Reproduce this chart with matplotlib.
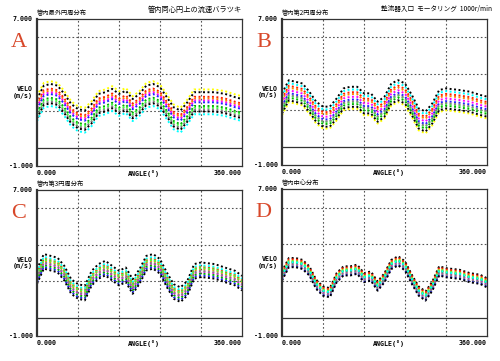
import matplotlib
matplotlib.use('Agg')
import matplotlib.pyplot as plt
import numpy as np

plt.rcParams['font.family'] = ['Noto Sans CJK JP', 'DejaVu Sans']

# 角度 (deg)
angles = [0, 12, 24, 36, 48, 60, 72, 84, 96, 108, 120, 132, 144, 156,
          168, 180, 192, 204, 216, 228, 240, 252, 264, 276, 288, 312, 330, 348, 360]

# 各パネルの中心流速 (m/s)
velo_A = [2.05, 2.78, 2.87, 2.78, 2.33, 1.78, 1.50, 1.42, 1.78, 2.33, 2.42, 2.60, 2.33, 2.50,
          2.05, 2.33, 2.78, 2.87, 2.69, 2.15, 1.60, 1.42, 1.87, 2.42, 2.42, 2.42, 2.33, 2.15, 2.05]
velo_B = [2.33, 3.05, 2.96, 2.87, 2.42, 1.87, 1.60, 1.60, 2.05, 2.60, 2.69, 2.69, 2.33, 2.33,
          1.87, 2.15, 2.87, 3.05, 2.87, 2.24, 1.50, 1.33, 1.78, 2.51, 2.60, 2.51, 2.42, 2.24, 2.15]
velo_C = [2.27, 3.10, 3.00, 2.90, 2.45, 1.72, 1.45, 1.36, 2.18, 2.55, 2.73, 2.45, 2.18, 2.36,
          1.72, 2.27, 3.00, 3.10, 2.82, 2.09, 1.45, 1.27, 1.63, 2.55, 2.64, 2.55, 2.36, 2.18, 1.90]
velo_D = [2.27, 3.00, 3.00, 2.90, 2.55, 1.82, 1.45, 1.36, 2.18, 2.55, 2.55, 2.64, 2.18, 2.27,
          1.72, 2.18, 2.90, 3.10, 2.82, 2.09, 1.45, 1.18, 1.72, 2.55, 2.45, 2.36, 2.18, 2.09, 1.90]

# 測定点ごとのばらつき (m/s)
point_colors = ['#ffff00', '#000000', '#ff2000', '#ff8000', '#ff00ff', '#2020ff',
                '#00b000', '#40ff40', '#808080', '#00ffff', '#000000']
spread_A = [0.75, 0.6, 0.35, 0.25, 0.15, 0.05, -0.15, -0.25, -0.35, -0.6, -0.45]
spread_B = [-0.6, 0.6, 0.3, 0.2, 0.05, -0.1, -0.35, -0.25, -0.2, 0.45, -0.5]
spread_C = [0.2, 0.4, 0.15, 0.05, -0.1, -0.3, -0.2, 0.1, -0.05, 0.25, -0.4]
spread_D = [0.12, 0.25, 0.18, 0.05, -0.08, -0.2, 0.0, 0.08, -0.12, 0.02, -0.25]

panels = [
    ('A', '管内最外円周分布', velo_A, spread_A, [0.074, 0.540, 0.410, 0.407]),
    ('B', '管内第2円周分布', velo_B, spread_B, [0.564, 0.543, 0.410, 0.404]),
    ('C', '管内第3円周分布', velo_C, spread_C, [0.074, 0.069, 0.410, 0.404]),
    ('D', '管内中心分布', velo_D, spread_D, [0.564, 0.069, 0.410, 0.407]),
]

fig = plt.figure(figsize=(5.0, 3.61), dpi=100)
fig.patch.set_facecolor('white')

mono = dict(family='DejaVu Sans Mono', fontsize=4.8, fontweight='bold')

for letter, sub, velo, spread, pos in panels:
    ax = fig.add_axes(pos)
    ax.set_xlim(0, 360)
    ax.set_ylim(-1, 7)
    ax.set_xticks([])
    ax.set_yticks([])
    for y in [2, 4, 6]:
        ax.axhline(y, color='#555555', linestyle=(0, (1.5, 2)), linewidth=0.8)
    for x in [72, 144, 216, 288]:
        ax.axvline(x, color='#555555', linestyle=(0, (1.5, 2)), linewidth=0.8)
    ax.axhline(0, color='#333333', linewidth=0.9)
    v = np.array(velo)
    for c, d in zip(point_colors, spread):
        ax.plot(angles, v + d, color=c, linestyle=(0, (1, 1.3)), linewidth=1.4)
    for s in ax.spines.values():
        s.set_color('#333333')
        s.set_linewidth(0.9)
    ax.spines['left'].set_linewidth(1.6)

    ax.text(-0.02, 1.0, '7.000', transform=ax.transAxes, ha='right', va='center', **mono)
    ax.text(-0.02, 0.0, '-1.000', transform=ax.transAxes, ha='right', va='center', **mono)
    ax.text(-0.02, 0.5, 'VELO\n(m/s)', transform=ax.transAxes, ha='right', va='center',
            linespacing=1.1, **mono)
    ax.text(0.0, -0.03, '0.000', transform=ax.transAxes, ha='left', va='top', **mono)
    ax.text(0.52, -0.03, 'ANGLE(°)', transform=ax.transAxes, ha='center', va='top', **mono)
    ax.text(1.0, -0.03, '360.000', transform=ax.transAxes, ha='right', va='top', **mono)
    ax.text(0.0, 1.015, sub, transform=ax.transAxes, ha='left', va='bottom', fontsize=4.5)
    ax.text(-0.09, 0.84, letter, transform=ax.transAxes, ha='center', va='center',
            family='Liberation Serif', fontsize=16, color='#d8482a')

fig.text(0.484, 0.985, '管内同心円上の流速バラツキ', ha='right', va='top', fontsize=5.2)
fig.text(0.984, 0.985, '整流器入口  モータリング  1000r/min', ha='right', va='top', fontsize=4.8)

fig.savefig('out.png', dpi=100)
